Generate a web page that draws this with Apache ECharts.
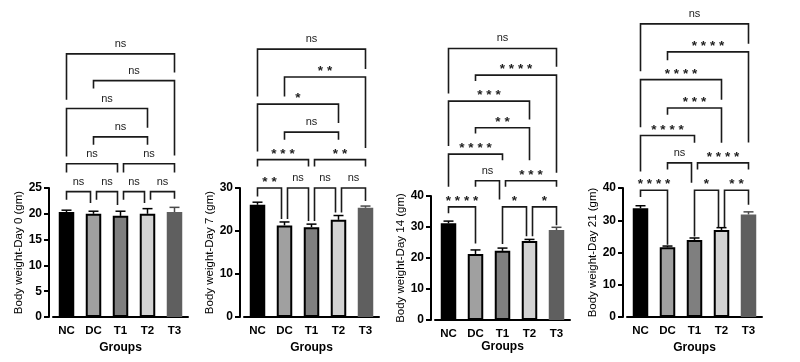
<!DOCTYPE html>
<html>
<head>
<meta charset="utf-8">
<script src="https://cdn.jsdelivr.net/npm/echarts@6/dist/echarts.min.js"></script>
<style>
html,body{margin:0;padding:0;background:#fff;}
#chart{width:800px;height:362px;}
</style>
</head>
<body>
<div id="chart"></div>
<script>
// ---------- data ----------
const categories = ['NC', 'DC', 'T1', 'T2', 'T3'];

const day0Mean = [20.35, 20.0, 19.6, 20.0, 20.35];
const day0SD   = [0.35, 0.5, 0.9, 1.0, 0.9];
const day7Mean = [26.1, 21.3, 20.9, 22.6, 25.4];
const day7SD   = [0.6, 0.8, 0.7, 1.0, 0.4];
const day14Mean = [31.2, 21.3, 22.3, 25.5, 29.0];
const day14SD   = [0.7, 1.3, 0.9, 0.5, 0.9];
const day21Mean = [33.7, 21.6, 23.9, 27.0, 31.8];
const day21SD   = [0.8, 0.4, 0.6, 0.7, 0.8];

const yTitles = ['Body weight-Day 0 (gm)', 'Body weight-Day 7 (gm)', 'Body weight-Day 14 (gm)', 'Body weight-Day 21 (gm)'];
const yMax = [25, 30, 40, 40];
const yInterval = [5, 10, 10, 10];

// significance brackets: [fromGroup, toGroup, lineValue, leftLegEnd, rightLegEnd, label]
const day0Brackets = [
  [0, 4, 51.0, 42.1, 47.4, 'ns'],
  [1, 4, 45.8, 44.3, 31.3, 'ns'],
  [0, 3, 40.4, 31.1, 36.7, 'ns'],
  [1, 3, 34.9, 33.4, 33.4, 'ns'],
  [0, 2, 29.7, 28.0, 28.0, 'ns'],
  [2, 4, 29.7, 28.0, 28.0, 'ns'],
  [0, 1, 24.3, 22.7, 22.1, 'ns'],
  [1, 2, 24.3, 22.7, 21.7, 'ns'],
  [2, 3, 24.3, 22.7, 22.1, 'ns'],
  [3, 4, 24.3, 22.7, 22.9, 'ns']
];
const day7Brackets = [
  [0, 4, 62.3, 51.3, 57.7, 'ns'],
  [1, 4, 55.8, 51.3, 39.3, '**'],
  [0, 3, 49.5, 38.5, 45.1, '*'],
  [1, 3, 43.0, 41.2, 41.2, 'ns'],
  [0, 2, 36.6, 35.0, 35.0, '***'],
  [2, 4, 36.6, 35.0, 35.0, '**'],
  [0, 1, 30.0, 28.0, 22.8, '**'],
  [1, 2, 30.0, 22.8, 22.3, 'ns'],
  [2, 3, 30.0, 22.3, 24.3, 'ns'],
  [3, 4, 30.0, 24.3, 27.0, 'ns']
];
const day14Brackets = [
  [0, 4, 87.6, 73.1, 81.7, 'ns'],
  [1, 4, 79.0, 77.1, 47.5, '****'],
  [0, 3, 70.6, 56.1, 64.7, '***'],
  [1, 3, 62.0, 60.2, 51.5, '**'],
  [0, 2, 53.5, 43.0, 51.5, '****'],
  [1, 2, 44.9, 43.0, 38.9, 'ns'],
  [2, 4, 44.9, 43.0, 43.0, '***'],
  [0, 1, 36.5, 34.4, 24.7, '****'],
  [2, 3, 36.5, 24.5, 27.0, '*'],
  [3, 4, 36.5, 27.0, 30.6, '*']
];
const day21Brackets = [
  [0, 4, 90.9, 76.2, 84.7, 'ns'],
  [1, 4, 82.2, 79.6, 54.1, '****'],
  [0, 3, 73.6, 58.8, 67.4, '****'],
  [1, 3, 64.8, 62.7, 54.0, '***'],
  [0, 2, 56.3, 45.1, 54.0, '****'],
  [1, 2, 47.8, 45.7, 41.6, 'ns'],
  [2, 4, 47.8, 45.7, 45.7, '****'],
  [0, 1, 39.3, 37.2, 22.4, '****'],
  [2, 3, 39.3, 25.0, 27.8, '*'],
  [3, 4, 39.3, 27.8, 34.8, '**']
];

// ---------- layout / style ----------
const FONT = 'Liberation Sans, Arial, Helvetica, sans-serif';
const barColors = ['#000000', '#a0a0a0', '#7f7f7f', '#d3d3d3', '#5f5f5f'];
const barBorders = ['#000000', '#000000', '#000000', '#000000', '#5f5f5f'];
const errColors = ['#000000', '#000000', '#000000', '#000000', '#4a4a4a'];
const grids = [
  { left: 53, top: 188, width: 135, height: 129 },
  { left: 244, top: 188, width: 135, height: 129 },
  { left: 435, top: 196, width: 135, height: 124 },
  { left: 627, top: 188, width: 135, height: 129 }
];
const xNameGaps = [25, 25, 21, 25];
const means = [day0Mean, day7Mean, day14Mean, day21Mean];
const sds = [day0SD, day7SD, day14SD, day21SD];
const brackets = [day0Brackets, day7Brackets, day14Brackets, day21Brackets];

const option = {
  animation: false,
  backgroundColor: '#ffffff',
  grid: grids.map(g => Object.assign({ containLabel: false }, g)),
  xAxis: grids.map((g, k) => ({
    type: 'category',
    gridIndex: k,
    data: categories,
    axisLine: { lineStyle: { color: '#000', width: 2 } },
    axisTick: { show: false },
    axisLabel: { color: '#000', fontFamily: FONT, fontWeight: 'bold', fontSize: 11.5, margin: 8 },
    name: 'Groups',
    nameLocation: 'middle',
    nameGap: xNameGaps[k],
    nameTextStyle: { color: '#000', fontFamily: FONT, fontWeight: 'bold', fontSize: 12 },
    splitLine: { show: false }
  })),
  yAxis: grids.map((g, k) => ({
    type: 'value',
    gridIndex: k,
    min: 0,
    max: yMax[k],
    interval: yInterval[k],
    offset: 4,
    axisLine: { show: true, lineStyle: { color: '#000', width: 2 } },
    axisTick: { show: true, length: 5, lineStyle: { color: '#000', width: 2 } },
    axisLabel: { color: '#000', fontFamily: FONT, fontWeight: 'bold', fontSize: 12, margin: 7 },
    splitLine: { show: false },
    name: yTitles[k],
    nameLocation: 'middle',
    nameGap: 24,
    nameRotate: 90,
    nameTextStyle: { color: '#000', fontFamily: FONT, fontSize: 11.5 }
  })),
  series: []
};

function makeBracketRender(list) {
  // shift shared endpoints on the same level inward
  const shifts = list.map((b, i) => {
    let ls = 0, rs = 0;
    list.forEach((o, j) => {
      if (j === i || Math.abs(o[2] - b[2]) > 1e-6) return;
      if (o[1] === b[0]) ls = 3;
      if (o[0] === b[1]) rs = -3;
    });
    return [ls, rs];
  });
  return function (params, api) {
    const i = params.dataIndex;
    const b = list[i];
    const pL = api.coord([b[0], b[2]]);
    const pR = api.coord([b[1], b[2]]);
    const eL = api.coord([b[0], b[3]]);
    const eR = api.coord([b[1], b[4]]);
    const xL = pL[0] + shifts[i][0];
    const xR = pR[0] + shifts[i][1];
    const y = pL[1];
    const isStar = b[5].indexOf('*') >= 0;
    const label = isStar ? b[5].split('').join(' ') : b[5];
    return {
      type: 'group',
      children: [
        {
          type: 'polyline',
          shape: { points: [[xL, eL[1]], [xL, y], [xR, y], [xR, eR[1]]] },
          style: { stroke: '#1a1a1a', lineWidth: 1.6, fill: null }
        },
        {
          type: 'text',
          style: {
            text: label,
            x: (xL + xR) / 2,
            y: isStar ? y - 5.5 : y - 10,
            align: 'center',
            verticalAlign: 'middle',
            fontFamily: FONT,
            fontWeight: isStar ? 'bold' : 'normal',
            fontSize: isStar ? 13.5 : 11,
            fill: '#222'
          }
        }
      ]
    };
  };
}

for (let k = 0; k < 4; k++) {
  option.series.push({
    type: 'bar',
    xAxisIndex: k,
    yAxisIndex: k,
    barWidth: 15.5,
    data: means[k].map((v, i) => ({
      value: v,
      itemStyle: { color: barColors[i], borderColor: barBorders[i], borderWidth: 2 }
    })),
    z: 2
  });
  option.series.push({
    type: 'custom',
    xAxisIndex: k,
    yAxisIndex: k,
    encode: { x: 0, y: [1, 2] },
    data: means[k].map((v, i) => [i, v, v + sds[k][i]]),
    renderItem: function (params, api) {
      const p0 = api.coord([api.value(0), api.value(1)]);
      const p1 = api.coord([api.value(0), api.value(2)]);
      const c = errColors[params.dataIndex];
      return {
        type: 'group',
        children: [
          { type: 'line', shape: { x1: p0[0], y1: p0[1], x2: p1[0], y2: p1[1] }, style: { stroke: c, lineWidth: 1.5 } },
          { type: 'line', shape: { x1: p1[0] - 5, y1: p1[1], x2: p1[0] + 5, y2: p1[1] }, style: { stroke: c, lineWidth: 1.5 } }
        ]
      };
    },
    z: 3
  });
  option.series.push({
    type: 'custom',
    xAxisIndex: k,
    yAxisIndex: k,
    clip: false,
    encode: { x: [0, 1], y: [2] },
    data: brackets[k].map(b => [b[0], b[1], Math.min(b[2], yMax[k])]),
    renderItem: makeBracketRender(brackets[k]),
    z: 4
  });
}

const chart = echarts.init(document.getElementById('chart'), null, { renderer: 'canvas' });
chart.setOption(option);
</script>
</body>
</html>
